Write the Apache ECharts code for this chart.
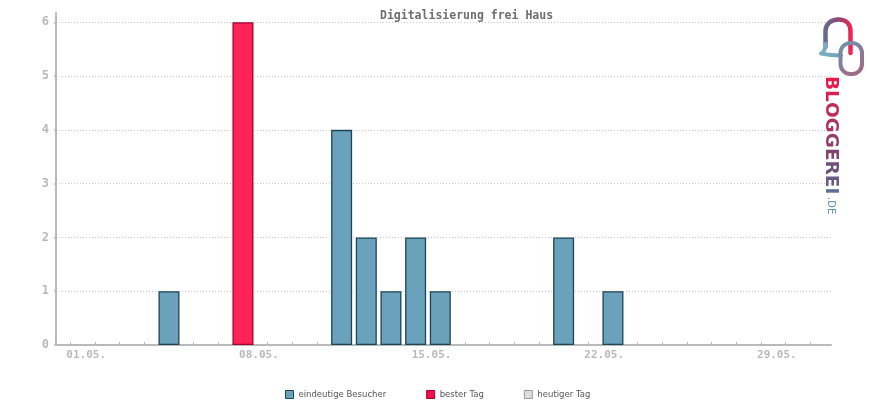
<!DOCTYPE html>
<html>
<head>
<meta charset="utf-8">
<script src="https://cdn.jsdelivr.net/npm/echarts@6/dist/echarts.min.js"></script>
<style>
html,body{margin:0;padding:0;background:#fff;}
#chart{width:870px;height:400px;}
</style>
</head>
<body>
<div id="chart"></div>
<script>
const titleText = 'Digitalisierung frei Haus';
const dates = ['01.05.','02.05.','03.05.','04.05.','05.05.','06.05.','07.05.','08.05.','09.05.','10.05.',
  '11.05.','12.05.','13.05.','14.05.','15.05.','16.05.','17.05.','18.05.','19.05.','20.05.',
  '21.05.','22.05.','23.05.','24.05.','25.05.','26.05.','27.05.','28.05.','29.05.','30.05.','31.05.'];
const visitors = [0,0,0,0,1,0,0,6,0,0,0,4,2,1,2,1,0,0,0,0,2,0,1,0,0,0,0,0,0,0,0];
const labelDays = [1,8,15,22,29];
const yTicks = [0,1,2,3,4,5,6];
const legendNames = ['eindeutige Besucher','bester Tag','heutiger Tag'];

const maxVal = Math.max.apply(null, visitors);
const bestIdx = visitors.indexOf(maxVal);
const blueData = [], redData = [];
visitors.forEach((v, i) => {
  if (i === bestIdx) redData.push([i + 1, v]);
  else if (v > 0) blueData.push([i + 1, v]);
});

const chart = echarts.init(document.getElementById('chart'), null, {renderer: 'canvas'});
const gray = '#b9b9b9';
const mono = '"DejaVu Sans Mono", monospace';

const option = {
  animation: false,
  title: {
    text: titleText,
    left: 375, top: 5,
    textStyle: {fontFamily: mono, fontWeight: 'bold', fontSize: 11.5, color: '#6e6e6e'}
  },
  grid: {left: 56, right: 39, top: 22.3, bottom: 55, containLabel: false},
  legend: {
    data: [
      {name: legendNames[0], itemStyle: {color: '#6aa2bb', borderColor: '#1d4457', borderWidth: 1}},
      {name: legendNames[1], itemStyle: {color: '#f0104a', borderColor: '#a0002a', borderWidth: 1}},
      {name: legendNames[2], itemStyle: {color: '#dddddd', borderColor: '#999999', borderWidth: 1}}
    ],
    left: 280, top: 385,
    icon: 'rect', itemWidth: 8, itemHeight: 8, itemGap: 40,
    textStyle: {fontFamily: '"DejaVu Sans", sans-serif', fontSize: 8.5, color: '#555'},
    selectedMode: false
  },
  xAxis: {
    type: 'value',
    min: 0.42, max: 31.84,
    axisLine: {show: true, lineStyle: {color: gray, width: 2}},
    axisTick: {show: true, inside: true, length: 3, customValues: dates.map((d, i) => i + 1), lineStyle: {color: gray, width: 1}},
    axisLabel: {
      show: true,
      customValues: labelDays.map(d => d - 0.16),
      formatter: v => dates[Math.round(v) - 1] || '',
      align: 'left',
      margin: 5,
      fontFamily: mono, fontWeight: 'bold', fontSize: 11, color: gray
    },
    splitLine: {show: false}
  },
  yAxis: {
    type: 'value',
    min: 0, max: 6, interval: 1,
    axisLine: {show: true, lineStyle: {color: gray, width: 2}},
    axisTick: {show: true, length: 2, lineStyle: {color: gray, width: 1.5}},
    axisLabel: {
      margin: 7,
      formatter: v => yTicks.indexOf(v) >= 0 ? String(v) : '',
      fontFamily: mono, fontWeight: 'bold', fontSize: 12, color: gray
    },
    splitLine: {show: true, lineStyle: {color: '#c8c8c8', width: 1, type: [1, 2]}}
  },
  series: [
    {
      name: legendNames[0], type: 'bar', stack: 'a', barWidth: 21,
      data: blueData,
      itemStyle: {color: '#6aa2bb', borderColor: '#1d4457', borderWidth: 1.3}
    },
    {
      name: legendNames[1], type: 'bar', stack: 'a', barWidth: 21,
      data: redData,
      itemStyle: {color: '#ff2259', borderColor: '#a0002a', borderWidth: 1.3}
    },
    {
      name: legendNames[2], type: 'bar', stack: 'a', barWidth: 21,
      data: [],
      itemStyle: {color: '#dddddd', borderColor: '#999999', borderWidth: 1}
    }
  ]
};
chart.setOption(option);

// logo shapes (decoration)
echarts.graphic.registerShape('logoBubble', echarts.graphic.extendPath(
  'M825.5,47 L825.5,31 C825.5,24 831,19.5 838.5,19.5 C846,19.5 850.5,24 850.5,31 L850.5,53', {}));
echarts.graphic.registerShape('logoTail', echarts.graphic.extendPath(
  'M825.5,44 C825.5,50 824,52 821,53.5 C828,55 835,55.5 841,55.5', {}));

const logoLetters = ['B','L','O','G','G','E','R','E','I'];
const logoColors = ['#e8194b','#d81f50','#c22a58','#ab3462','#943c6a','#7f4572','#6e5079','#665d86','#5f6e94'];
const rich = {};
logoLetters.forEach((l, i) => {
  rich['c' + i] = {fill: logoColors[i], fontFamily: '"DejaVu Sans", sans-serif', fontWeight: 'bold', fontSize: 18.5};
});
const logoText = logoLetters.map((l, i) => '{c' + i + '|' + l + '}').join('');

const topPt = chart.convertToPixel({gridIndex: 0}, [0.42, 6]);
const LG = echarts.graphic.LinearGradient;
chart.setOption({
  graphic: [
    {type: 'line', shape: {x1: topPt[0], y1: topPt[1] - 10, x2: topPt[0], y2: topPt[1]},
     style: {stroke: gray, lineWidth: 2}, z: 10},
    {type: 'logoBubble',
     style: {fill: 'none', lineWidth: 4.5, lineCap: 'round', lineJoin: 'round',
       stroke: new LG(0, 0, 1, 0, [{offset: 0, color: '#5f6f8f'}, {offset: 0.5, color: '#8a4a78'}, {offset: 1, color: '#ff1f4f'}])}},
    {type: 'logoTail',
     style: {fill: 'none', lineWidth: 4, lineCap: 'round', lineJoin: 'round',
       stroke: new LG(0, 0, 1, 0, [{offset: 0, color: '#7fb2c6'}, {offset: 1, color: '#6aa0b8'}])}},
    {type: 'rect', shape: {x: 840.5, y: 43, width: 21.5, height: 31, r: 10},
     style: {fill: 'none', lineWidth: 4,
       stroke: new LG(0, 0, 1, 1, [{offset: 0, color: '#6a9ab0'}, {offset: 0.5, color: '#8a7a98'}, {offset: 1, color: '#a8607f'}])}},
    {type: 'text', x: 831, y: 76, rotation: -Math.PI / 2,
     style: {text: logoText, rich: rich, align: 'left', verticalAlign: 'middle', fill: '#8a3f6e'}},
    {type: 'text', x: 830.5, y: 197, rotation: -Math.PI / 2,
     style: {text: '.DE', font: '10px "DejaVu Sans", sans-serif', align: 'left', verticalAlign: 'middle', fill: '#5a8db0'}}
  ]
});
</script>
</body>
</html>
